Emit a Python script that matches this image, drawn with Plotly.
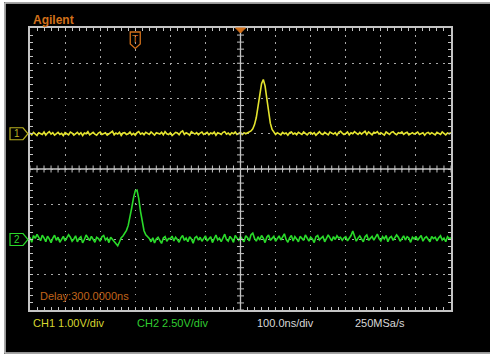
import numpy as np
import plotly.graph_objects as go

# ---------------- data ----------------
t_start_ns = -300          # left edge of screen (trigger at 0, delay 300 ns)
t_step_ns = 5
ch1_volts = [
    0.02,-0.03,0.04,0.00,-0.05,0.03,0.01,-0.02,0.05,-0.04,0.02,0.06,-0.01,0.03,-0.04,0.00,0.04,-0.02,0.01,-0.05,
    0.03,0.00,-0.03,0.05,0.02,-0.04,0.01,0.04,-0.02,0.03,-0.05,0.02,0.00,0.06,-0.03,0.01,0.04,-0.01,-0.04,0.02,
    0.05,-0.02,0.01,0.03,-0.04,0.00,0.04,0.07,-0.03,0.02,-0.01,0.04,-0.05,0.02,0.03,-0.02,0.00,0.05,-0.03,0.01,
    -0.04,0.03,0.06,-0.01,0.02,-0.03,0.04,0.00,-0.02,0.05,0.01,-0.04,0.03,0.02,-0.01,0.04,-0.03,0.06,0.00,-0.02,
    0.03,-0.05,0.01,0.04,0.02,-0.03,0.05,0.08,-0.02,0.03,0.00,-0.04,0.06,0.01,-0.01,0.03,-0.03,0.02,0.05,-0.02,
    0.01,0.04,-0.03,0.02,0.00,0.05,-0.04,0.03,0.01,-0.02,0.04,0.06,-0.01,0.02,-0.03,0.03,0.00,0.05,-0.02,0.01,
    0.04,-0.02,0.03,0.00,0.02,0.05,0.08,0.14,0.26,0.46,0.76,1.10,1.42,1.54,1.36,1.00,0.62,0.30,0.12,0.05,
    -0.02,0.03,0.01,-0.03,0.04,0.00,0.02,-0.04,0.03,0.05,-0.01,0.02,-0.03,0.04,0.01,-0.02,0.05,0.00,-0.03,0.02,
    0.04,-0.01,0.03,-0.04,0.02,0.06,0.00,-0.02,0.04,0.01,-0.03,0.05,0.02,-0.01,0.03,-0.04,0.04,0.07,0.02,-0.02,
    0.01,0.05,-0.03,0.03,0.00,0.06,0.02,-0.02,0.04,-0.01,0.03,0.07,-0.02,0.05,0.01,-0.03,0.04,0.02,0.06,-0.01,
    0.03,0.00,-0.04,0.05,0.02,-0.02,0.04,0.06,0.00,-0.03,0.03,0.01,0.05,-0.02,0.02,0.04,-0.03,0.01,0.03,-0.01,
    0.02,0.05,-0.02,0.00,0.03,-0.04,0.02,0.04,-0.01,0.03,0.00,-0.03,0.04,0.02,-0.02,0.05,0.01,-0.03,0.02,0.00,
    0.03,
]
ch2_volts = [
    0.16,-0.20,0.28,0.08,0.36,0.18,-0.08,0.30,0.12,-0.16,0.24,0.04,-0.22,0.10,0.30,-0.06,0.16,-0.20,0.06,0.22,
    -0.10,0.12,0.34,0.16,-0.12,0.04,0.26,-0.16,0.08,0.20,-0.24,0.00,0.32,0.12,-0.08,0.22,0.04,-0.20,0.16,0.06,
    -0.12,0.20,0.28,-0.04,0.10,-0.22,0.16,0.00,-0.10,-0.26,-0.45,-0.18,0.12,0.25,0.42,0.65,1.00,1.55,2.25,2.95,
    3.45,3.50,2.90,2.00,1.20,0.62,0.34,0.20,0.08,-0.16,0.12,-0.24,0.04,0.16,-0.08,-0.28,0.10,0.20,-0.12,0.06,
    0.06,0.24,-0.10,0.16,0.00,-0.20,0.12,0.28,-0.06,0.10,-0.16,0.20,0.04,-0.26,0.12,0.22,-0.04,0.16,-0.12,0.06,
    0.26,-0.10,0.04,0.20,-0.22,0.12,0.32,-0.04,0.10,-0.16,0.16,0.38,0.00,-0.12,0.22,0.06,-0.20,0.28,0.10,-0.06,
    0.20,0.04,-0.16,0.26,0.12,-0.10,0.34,0.45,0.08,-0.12,0.20,-0.04,0.28,0.10,-0.22,0.16,0.32,-0.06,0.12,0.22,
    -0.12,0.06,0.26,-0.04,0.16,0.40,0.00,-0.20,0.12,0.28,-0.10,0.20,0.04,-0.16,0.22,0.10,-0.06,0.32,0.12,-0.12,
    0.16,0.04,-0.22,0.20,0.28,-0.04,0.10,0.22,-0.16,0.06,0.32,0.12,-0.10,0.20,0.00,0.26,0.10,0.16,-0.06,0.12,
    0.20,-0.10,0.06,0.28,0.60,0.22,-0.12,0.10,0.26,0.04,-0.16,0.20,0.32,-0.06,0.12,0.22,-0.04,0.16,0.38,0.06,
    -0.10,0.20,0.04,0.28,-0.16,0.12,0.22,-0.06,0.10,0.32,0.16,-0.12,0.06,0.26,-0.04,0.20,0.10,-0.20,0.16,0.04,
    0.22,-0.06,0.12,0.28,-0.12,0.10,0.20,0.00,-0.16,0.22,0.06,0.16,-0.10,0.12,0.26,-0.04,0.10,-0.16,0.20,0.06,
    0.12,
]
ch1_volts_per_div = 1.00
ch2_volts_per_div = 2.50
ch1_offset_div = 1.0       # ground marker position (divisions above centre)
ch2_offset_div = -2.0
time_per_div_ns = 100
delay_ns = 300
labels_bottom = ["CH1 1.00V/div", "CH2 2.50V/div", "100.0ns/div", "250MSa/s"]
delay_label = "Delay:300.0000ns"
brand = "Agilent"

# ---------------- derived ----------------
t = t_start_ns + t_step_ns * np.arange(len(ch1_volts))
y1 = np.array(ch1_volts) / ch1_volts_per_div + ch1_offset_div
y2 = np.array(ch2_volts) / ch2_volts_per_div + ch2_offset_div
x_lo = delay_ns - 6 * time_per_div_ns
x_hi = delay_ns + 6 * time_per_div_ns

W, H = 490, 355
L, R, T, B = 30, 39, 28, 45
PW, PH = W - L - R, H - T - B
def px(xp):  # pixel x -> paper
    return (xp - L) / PW
def py(yp):  # pixel y -> paper
    return (H - B - yp) / PH
ns_per_px = (x_hi - x_lo) / PW
div_per_px = 8 / PH

GRAT = "#c4c4c4"
YEL = "#e4e42e"
GRN = "#2ada2a"
ORG = "#d2701a"
FONT = "Liberation Sans, Arial, sans-serif"

fig = go.Figure()
fig.add_trace(go.Scatter(x=t, y=y1, mode="lines", line=dict(color=YEL, width=1.6),
                         hoverinfo="skip", showlegend=False))
fig.add_trace(go.Scatter(x=t, y=y2, mode="lines", line=dict(color=GRN, width=1.6),
                         hoverinfo="skip", showlegend=False))

# graticule ticks along the centre lines
cx = np.arange(x_lo, x_hi + 1, time_per_div_ns / 5)
cy = np.arange(-4, 4.001, 0.2)
fig.add_trace(go.Scatter(x=cx, y=np.zeros_like(cx), mode="markers",
                         marker=dict(symbol="line-ns", size=5, line=dict(color=GRAT, width=1)),
                         hoverinfo="skip", showlegend=False))
fig.add_trace(go.Scatter(x=np.full_like(cy, delay_ns), y=cy, mode="markers",
                         marker=dict(symbol="line-ew", size=5, line=dict(color=GRAT, width=1)),
                         hoverinfo="skip", showlegend=False))

shapes = [
    # white surround outside the screen (left, top, bottom)
    dict(type="rect", xref="paper", yref="paper", x0=px(-10), x1=px(4.3), y0=py(400), y1=py(-10),
         fillcolor="white", line=dict(width=0), layer="below"),
    dict(type="rect", xref="paper", yref="paper", x0=px(-10), x1=px(520), y0=py(2.3), y1=py(-10),
         fillcolor="white", line=dict(width=0), layer="below"),
    dict(type="rect", xref="paper", yref="paper", x0=px(-10), x1=px(520), y0=py(400), y1=py(353.7),
         fillcolor="white", line=dict(width=0), layer="below"),
    # grey frame lines (left, top, bottom)
    dict(type="line", xref="paper", yref="paper", x0=px(5), x1=px(5), y0=py(353), y1=py(3),
         line=dict(color="#c8c8c8", width=1.5), layer="below"),
    dict(type="line", xref="paper", yref="paper", x0=px(5), x1=px(520), y0=py(3), y1=py(3),
         line=dict(color="#c8c8c8", width=1.5), layer="below"),
    dict(type="line", xref="paper", yref="paper", x0=px(5), x1=px(520), y0=py(353), y1=py(353),
         line=dict(color="#c8c8c8", width=1.5), layer="below"),
    # centre lines
    dict(type="line", xref="x", yref="y", x0=x_lo, x1=x_hi, y0=0, y1=0,
         line=dict(color=GRAT, width=1.3)),
    dict(type="line", xref="x", yref="y", x0=delay_ns, x1=delay_ns, y0=-4, y1=4,
         line=dict(color=GRAT, width=1.3)),
]

def chan_marker(off, color):
    h = 6 * div_per_px
    path = (f"M{px(10)},{off+h} L{px(23)},{off+h} L{px(28)},{off} "
            f"L{px(23)},{off-h} L{px(10)},{off-h} Z")
    return dict(type="path", xref="paper", yref="y", path=path,
                line=dict(color=color, width=1.2))
shapes.append(chan_marker(ch1_offset_div, "#b8b020"))
shapes.append(chan_marker(ch2_offset_div, GRN))

# trigger marker (pentagon pointing down) at t = 0
hw = 5 * ns_per_px
trig_path = (f"M{-hw},{py(32)} L{hw},{py(32)} L{hw},{py(44)} L0,{py(48.5)} L{-hw},{py(44)} Z")
shapes.append(dict(type="path", xref="x", yref="paper", path=trig_path,
                   line=dict(color=ORG, width=1.3)))
# delay marker (triangle) at centre top
tri = (f"M{delay_ns-hw},{py(28)} L{delay_ns+hw},{py(28)} L{delay_ns},{py(33)} Z")
shapes.append(dict(type="path", xref="x", yref="paper", path=tri,
                   fillcolor=ORG, line=dict(color=ORG, width=1)))

annotations = [
    dict(text=f"<b>{brand}</b>", xref="paper", yref="paper", x=px(31), y=py(20),
         xanchor="left", yanchor="middle", showarrow=False, font=dict(color=ORG, size=12, family=FONT)),
    dict(text=delay_label, xref="paper", yref="paper", x=px(38), y=py(296),
         xanchor="left", yanchor="middle", showarrow=False, font=dict(color="#c0641a", size=11, family=FONT)),
    dict(text="T", xref="x", yref="paper", x=0, y=py(39), xanchor="center", yanchor="middle",
         showarrow=False, font=dict(color=ORG, size=10, family=FONT)),
    dict(text="1", xref="paper", yref="y", x=px(17), y=ch1_offset_div, xanchor="center", yanchor="middle",
         showarrow=False, font=dict(color="#b8b020", size=10, family=FONT)),
    dict(text="2", xref="paper", yref="y", x=px(17), y=ch2_offset_div, xanchor="center", yanchor="middle",
         showarrow=False, font=dict(color=GRN, size=10, family=FONT)),
]
bottom_x = [31, 135, 255, 353]
bottom_c = ["#d6d630", "#30cc30", "#d8d8d8", "#d8d8d8"]
for lab, xx, cc in zip(labels_bottom, bottom_x, bottom_c):
    annotations.append(dict(text=lab, xref="paper", yref="paper", x=px(xx), y=py(323),
                            xanchor="left", yanchor="middle", showarrow=False,
                            font=dict(color=cc, size=11, family=FONT)))

axis_common = dict(showticklabels=False, showline=True, linecolor=GRAT, linewidth=1.5,
                   mirror="allticks", ticks="inside", ticklen=3, tickcolor=GRAT, tickwidth=1,
                   showgrid=True, gridcolor="#a8a8a8", gridwidth=1.2, griddash="1.5px,5.5px",
                   zeroline=False, fixedrange=True)
fig.update_layout(
    width=W, height=H, margin=dict(l=L, r=R, t=T, b=B, pad=0),
    paper_bgcolor="black", plot_bgcolor="black",
    xaxis=dict(range=[x_lo, x_hi], tick0=x_lo, dtick=time_per_div_ns,
               minor=dict(dtick=time_per_div_ns / 5, ticks="inside", ticklen=3, tickcolor=GRAT, showgrid=False),
               **axis_common),
    yaxis=dict(range=[-4, 4], tick0=-4, dtick=1,
               minor=dict(dtick=0.2, ticks="inside", ticklen=3, tickcolor=GRAT, showgrid=False),
               **axis_common),
    shapes=shapes, annotations=annotations, showlegend=False,
)
fig.write_html("out.html", config={"displayModeBar": False},
               post_script="document.body.style.margin='0';document.body.style.padding='0';"
                           "document.body.style.overflow='hidden';"
                           "document.body.style.background='black';")
